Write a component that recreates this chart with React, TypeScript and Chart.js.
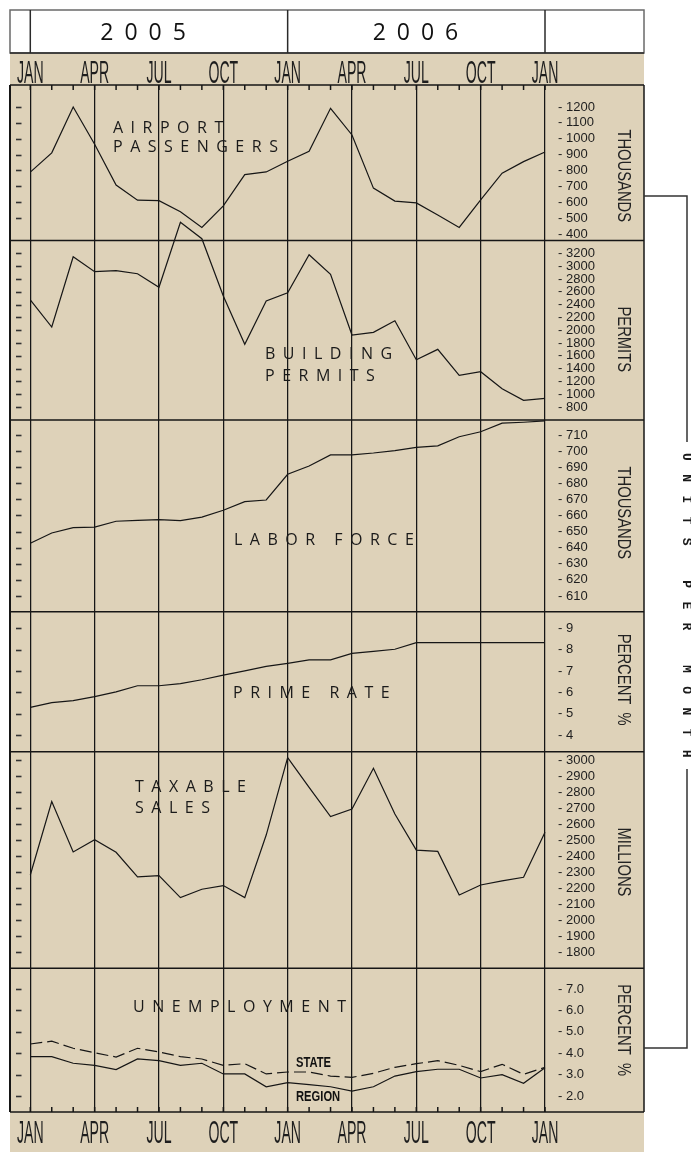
import React, { useEffect, useRef } from 'react';
import { Chart, registerables } from 'chart.js';

Chart.register(...registerables);

// ---------------- data ----------------
const MONTHS = [
  'Jan 2005', 'Feb 2005', 'Mar 2005', 'Apr 2005', 'May 2005', 'Jun 2005', 'Jul 2005', 'Aug 2005', 'Sep 2005', 'Oct 2005', 'Nov 2005', 'Dec 2005',
  'Jan 2006', 'Feb 2006', 'Mar 2006', 'Apr 2006', 'May 2006', 'Jun 2006', 'Jul 2006', 'Aug 2006', 'Sep 2006', 'Oct 2006', 'Nov 2006', 'Dec 2006',
  'Jan 2007',
];
const QUARTER_TICKS = [0, 3, 6, 9, 12, 15, 18, 21, 24];
const QUARTER_LABELS = ['JAN', 'APR', 'JUL', 'OCT', 'JAN', 'APR', 'JUL', 'OCT', 'JAN'];
const YEARS = ['2005', '2006'];
const YEAR_BOUNDS = [0, 12, 24];

const AIRPORT_PASSENGERS = [790, 911, 1200, 965, 708, 613, 610, 540, 441, 577, 774, 791, 858, 921, 1192, 1024, 689, 607, 596, 520, 441, 615, 783, 856, 917];
const BUILDING_PERMITS = [2471, 2049, 3147, 2913, 2928, 2881, 2669, 3684, 3428, 2533, 1779, 2455, 2585, 3178, 2872, 1924, 1966, 2147, 1538, 1700, 1295, 1351, 1086, 905, 936];
const LABOR_FORCE = [642.7, 649.1, 652.4, 652.7, 656.4, 657.0, 657.4, 656.8, 659.0, 663.2, 668.6, 669.6, 685.6, 690.7, 697.6, 697.6, 698.8, 700.3, 702.3, 703.2, 708.9, 712.0, 717.3, 717.9, 718.7];
const PRIME_RATE = [5.30, 5.52, 5.61, 5.80, 6.02, 6.31, 6.31, 6.41, 6.59, 6.81, 7.01, 7.22, 7.36, 7.52, 7.52, 7.83, 7.92, 8.02, 8.33, 8.33, 8.33, 8.33, 8.33, 8.33, 8.33];
const TAXABLE_SALES = [2281, 2740, 2425, 2502, 2423, 2269, 2277, 2140, 2192, 2215, 2140, 2531, 3015, 2829, 2646, 2694, 2948, 2662, 2437, 2429, 2156, 2219, 2244, 2267, 2548];
const UNEMPLOYMENT_STATE = [4.43, 4.56, 4.23, 4.02, 3.82, 4.23, 4.06, 3.84, 3.73, 3.43, 3.51, 3.03, 3.12, 3.12, 2.93, 2.87, 3.06, 3.34, 3.51, 3.65, 3.43, 3.14, 3.48, 3.01, 3.34];
const UNEMPLOYMENT_REGION = [3.84, 3.84, 3.53, 3.43, 3.23, 3.73, 3.65, 3.43, 3.53, 3.03, 3.03, 2.43, 2.62, 2.53, 2.43, 2.23, 2.43, 2.93, 3.14, 3.25, 3.25, 2.84, 3.00, 2.59, 3.32];

const AIRPORT_TICKS = [400, 500, 600, 700, 800, 900, 1000, 1100, 1200];
const PERMIT_TICKS = [800, 1000, 1200, 1400, 1600, 1800, 2000, 2200, 2400, 2600, 2800, 3000, 3200];
const LABOR_TICKS = [610, 620, 630, 640, 650, 660, 670, 680, 690, 700, 710];
const PRIME_TICKS = [4, 5, 6, 7, 8, 9];
const SALES_TICKS = [1800, 1900, 2000, 2100, 2200, 2300, 2400, 2500, 2600, 2700, 2800, 2900, 3000];
const UNEMP_TICKS = [2, 3, 4, 5, 6, 7];

// ---------------- styling / layout ----------------
const TAN = '#ded2b9';
const INK = '#161616';
const SANS = "'Liberation Sans', Arial, sans-serif";
const TITLE_FONT = "'Open Sans', 'Noto Sans', sans-serif";
const X_MIN = -0.9466;

type Panel = {
  id: string; weight: number; min: number; max: number; ticks: number[];
  unit: string; unitShift: number; title: string[]; titleX: number; titleDy: number[];
  leftSkip: number[]; decimals: number;
};

const PANELS: Panel[] = [
  { id: 'yAir', weight: 155.5, min: 359, max: 1338.6, ticks: AIRPORT_TICKS, unit: 'THOUSANDS', unitShift: 13, title: ['AIRPORT', 'PASSENGERS'], titleX: 113, titleDy: [47.7, 66.7], leftSkip: [400], decimals: 0 },
  { id: 'yBld', weight: 179.5, min: 597, max: 3400, ticks: PERMIT_TICKS, unit: 'PERMITS', unitShift: 9, title: ['BUILDING', 'PERMITS'], titleX: 265, titleDy: [118.5, 140.2], leftSkip: [], decimals: 0 },
  { id: 'yLab', weight: 191.7, min: 600.2, max: 719.3, ticks: LABOR_TICKS, unit: 'THOUSANDS', unitShift: -3, title: ['LABOR FORCE'], titleX: 234, titleDy: [125], leftSkip: [], decimals: 0 },
  { id: 'yPri', weight: 140, min: 3.22, max: 9.78, ticks: PRIME_TICKS, unit: 'PERCENT  %', unitShift: -2, title: ['PRIME RATE'], titleX: 233, titleDy: [86], leftSkip: [], decimals: 0 },
  { id: 'yTax', weight: 216.6, min: 1698, max: 3052, ticks: SALES_TICKS, unit: 'MILLIONS', unitShift: 2, title: ['TAXABLE', 'SALES'], titleX: 135, titleDy: [40.6, 61], leftSkip: [], decimals: 0 },
  { id: 'yUne', weight: 143.7, min: 1.25, max: 7.97, ticks: UNEMP_TICKS, unit: 'PERCENT  %', unitShift: -10, title: ['UNEMPLOYMENT'], titleX: 133, titleDy: [44], leftSkip: [], decimals: 1 },
];

const toPoints = (arr: number[]) => arr.map((y, i) => ({ x: i, y }));

function line(ctx: any, x1: number, y1: number, x2: number, y2: number) {
  ctx.beginPath();
  ctx.moveTo(x1, y1);
  ctx.lineTo(x2, y2);
  ctx.stroke();
}

function squeezed(ctx: any, text: string, x: number, y: number, font: string, sx: number, align: string) {
  ctx.save();
  ctx.translate(x, y);
  ctx.scale(sx, 1);
  ctx.font = font;
  ctx.textAlign = align;
  ctx.textBaseline = 'alphabetic';
  ctx.fillText(text, 0, 0);
  ctx.restore();
}

const decor = {
  id: 'decor',
  beforeDraw(chart: any) {
    const ctx = chart.ctx;
    const xs = chart.scales.x;
    const xt = chart.scales.x2;
    const area = chart.chartArea;
    const right = chart.scales[PANELS[0].id].right;
    const left = area.left;
    ctx.save();
    ctx.fillStyle = '#ffffff';
    ctx.fillRect(0, 0, chart.width, chart.height);
    ctx.fillStyle = TAN;
    ctx.fillRect(left, xt.top, right - left, chart.height - xt.top);
    // header
    const hTop = 10;
    const hBot = xt.top;
    ctx.fillStyle = '#ffffff';
    ctx.fillRect(left, hTop, right - left, hBot - hTop);
    ctx.strokeStyle = '#6a6a6a';
    ctx.lineWidth = 1.5;
    ctx.strokeRect(left, hTop, right - left, hBot - hTop);
    ctx.strokeStyle = '#2a2a2a';
    YEAR_BOUNDS.forEach((v) => {
      const px = xs.getPixelForValue(v);
      line(ctx, px, hTop, px, hBot);
    });
    line(ctx, left, hBot, right, hBot);
    ctx.fillStyle = '#111';
    ctx.font = `23px ${TITLE_FONT}`;
    ctx.textBaseline = 'alphabetic';
    ctx.textAlign = 'left';
    ctx.letterSpacing = '11px';
    const yearStarts = [70, 85];
    YEARS.forEach((yr, i) => {
      ctx.fillText(yr, xs.getPixelForValue(YEAR_BOUNDS[i]) + yearStarts[i], 39.5);
    });
    ctx.letterSpacing = '0px';
    ctx.restore();
  },
  afterDraw(chart: any) {
    const ctx = chart.ctx;
    const xs = chart.scales.x;
    const xt = chart.scales.x2;
    const area = chart.chartArea;
    const right = chart.scales[PANELS[0].id].right;
    const left = area.left;
    ctx.save();
    ctx.strokeStyle = INK;
    // panel separators
    ctx.lineWidth = 1.6;
    PANELS.forEach((p) => {
      const s = chart.scales[p.id];
      line(ctx, left, s.top, right, s.top);
    });
    line(ctx, left, area.bottom, right, area.bottom);
    ctx.lineWidth = 2;
    line(ctx, left, area.top, left, area.bottom);
    ctx.lineWidth = 1.5;
    line(ctx, right, area.top, right, area.bottom);
    // left ticks
    ctx.strokeStyle = '#333';
    ctx.lineWidth = 1.6;
    PANELS.forEach((p) => {
      const s = chart.scales[p.id];
      p.ticks.forEach((v) => {
        if (p.leftSkip.includes(v)) return;
        const py = Math.round(s.getPixelForValue(v)) + 0.5;
        line(ctx, left + 6, py, left + 11.5, py);
      });
    });
    // monthly ticks
    ctx.strokeStyle = INK;
    ctx.lineWidth = 1.5;
    MONTHS.forEach((_, i) => {
      const px = xs.getPixelForValue(i);
      line(ctx, px, area.top, px, area.top + 5);
      line(ctx, px, area.bottom - 5, px, area.bottom);
    });
    // month labels
    ctx.fillStyle = '#1e1e1e';
    QUARTER_TICKS.forEach((v, i) => {
      const px = xs.getPixelForValue(v);
      squeezed(ctx, QUARTER_LABELS[i], px, xt.bottom - 2, `31px ${SANS}`, 0.455, 'center');
      squeezed(ctx, QUARTER_LABELS[i], px, xs.top + 31, `31px ${SANS}`, 0.455, 'center');
    });
    // panel titles
    ctx.fillStyle = '#1a1a1a';
    ctx.font = `16px ${TITLE_FONT}`;
    ctx.textAlign = 'left';
    ctx.textBaseline = 'alphabetic';
    ctx.letterSpacing = '7.5px';
    PANELS.forEach((p) => {
      const s = chart.scales[p.id];
      p.title.forEach((t, k) => ctx.fillText(t, p.titleX, s.top + p.titleDy[k]));
    });
    ctx.letterSpacing = '0px';
    // right-hand unit titles
    ctx.fillStyle = '#222';
    PANELS.forEach((p) => {
      const s = chart.scales[p.id];
      ctx.save();
      ctx.translate(s.right - 21.5, (s.top + s.bottom) / 2 + p.unitShift);
      ctx.rotate(Math.PI / 2);
      ctx.scale(0.82, 1);
      ctx.font = `18px ${SANS}`;
      ctx.textAlign = 'center';
      ctx.textBaseline = 'middle';
      ctx.fillText(p.unit, 0, 0);
      ctx.restore();
    });
    // series labels in unemployment panel
    ctx.fillStyle = '#111';
    squeezed(ctx, 'STATE', 296, 1067.3, `bold 14px ${SANS}`, 0.8, 'left');
    squeezed(ctx, 'REGION', 296, 1100.7, `bold 14px ${SANS}`, 0.8, 'left');
    // UNITS PER MONTH bracket
    const bx = 687;
    ctx.strokeStyle = '#333';
    ctx.lineWidth = 1.5;
    ctx.beginPath();
    ctx.moveTo(right, 196);
    ctx.lineTo(bx, 196);
    ctx.lineTo(bx, 442);
    ctx.stroke();
    ctx.beginPath();
    ctx.moveTo(bx, 769);
    ctx.lineTo(bx, 1048);
    ctx.lineTo(right, 1048);
    ctx.stroke();
    ctx.save();
    ctx.translate(bx - 0.5, 453);
    ctx.rotate(Math.PI / 2);
    ctx.font = `bold 13px 'Liberation Mono', 'DejaVu Sans Mono', monospace`;
    ctx.textAlign = 'left';
    ctx.textBaseline = 'middle';
    ctx.letterSpacing = '13.4px';
    ctx.fillStyle = '#1a1a1a';
    ctx.fillText('UNITS PER MONTH', 0, 0);
    ctx.letterSpacing = '0px';
    ctx.restore();
    ctx.restore();
  },
};

function buildConfig(): any {
  const scales: any = {
    x: {
      type: 'linear', position: 'bottom', min: X_MIN, max: MONTHS.length - 1,
      afterBuildTicks: (s: any) => { s.ticks = QUARTER_TICKS.map((v) => ({ value: v })); },
      afterFit: (s: any) => { s.height = 40; },
      ticks: { display: false },
      grid: { display: true, drawTicks: false, color: INK, lineWidth: 1.25 },
      border: { display: false },
    },
    x2: {
      type: 'linear', position: 'top', min: X_MIN, max: MONTHS.length - 1,
      afterBuildTicks: (s: any) => { s.ticks = QUARTER_TICKS.map((v) => ({ value: v })); },
      afterFit: (s: any) => { s.height = 32; },
      ticks: { display: false },
      grid: { display: false, drawTicks: false },
      border: { display: false },
    },
  };
  PANELS.forEach((p) => {
    scales[p.id] = {
      type: 'linear', position: 'right', stack: 'panels', stackWeight: p.weight,
      min: p.min, max: p.max,
      afterBuildTicks: (s: any) => { s.ticks = p.ticks.map((v) => ({ value: v })); },
      afterFit: (s: any) => { s.width = 99; },
      ticks: {
        autoSkip: false, padding: 13, color: '#1e1e1e',
        font: { family: SANS, size: 13 },
        callback: (v: any) => '- ' + Number(v).toFixed(p.decimals),
      },
      grid: { display: false, drawTicks: false },
      border: { display: false },
    };
  });

  const ds = (data: number[], axis: string, extra: any = {}) => ({
    data: toPoints(data), yAxisID: axis, xAxisID: 'x',
    borderColor: INK, borderWidth: 1.2, pointRadius: 0, tension: 0, fill: false, clip: false, ...extra,
  });

  return {
    type: 'line',
    data: {
      datasets: [
        ds(AIRPORT_PASSENGERS, 'yAir'),
        ds(BUILDING_PERMITS, 'yBld'),
        ds(LABOR_FORCE, 'yLab'),
        ds(PRIME_RATE, 'yPri'),
        ds(TAXABLE_SALES, 'yTax'),
        ds(UNEMPLOYMENT_STATE, 'yUne', { borderDash: [12, 5] }),
        ds(UNEMPLOYMENT_REGION, 'yUne'),
      ],
    },
    options: {
      animation: false,
      responsive: false,
      devicePixelRatio: 1,
      layout: { padding: { left: 10, right: 47, top: 53, bottom: 0 } },
      plugins: { legend: { display: false }, tooltip: { enabled: false } },
      scales,
    },
    plugins: [decor],
  };
}

export default function App() {
  const ref = useRef<HTMLCanvasElement>(null);
  useEffect(() => {
    const chart = new Chart(ref.current as HTMLCanvasElement, buildConfig());
    return () => chart.destroy();
  }, []);
  return (
    <div style={{ position: 'absolute', left: 0, top: 0, width: 691, height: 1152, background: '#fff' }}>
      <canvas ref={ref} width={691} height={1152} style={{ display: 'block', width: 691, height: 1152 }} />
    </div>
  );
}
